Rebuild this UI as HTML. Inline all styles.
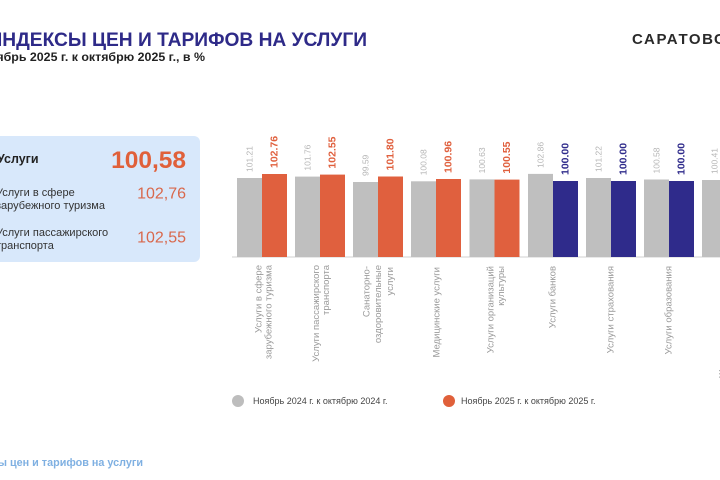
<!DOCTYPE html>
<html><head><meta charset="utf-8"><style>
html,body{margin:0;padding:0;}
body{width:720px;height:480px;position:relative;overflow:hidden;background:#fff;font-family:"Liberation Sans",Arial,sans-serif;}
.abs{position:absolute;white-space:nowrap;}
</style></head><body>
<div class="abs" style="right:353px;top:28.5px;font-size:19.2px;font-weight:bold;color:#2e2a88;line-height:24px;">ИНДЕКСЫ ЦЕН И ТАРИФОВ НА УСЛУГИ</div>
<div class="abs" style="right:515px;top:49.5px;font-size:12.4px;font-weight:bold;color:#222;line-height:14px;">Ноябрь 2025 г. к октябрю 2025 г., в %</div>
<div class="abs" style="left:632px;top:31px;font-size:15px;font-weight:bold;color:#2a2a2a;letter-spacing:1.6px;line-height:18px;">САРАТОВСТАТ</div>
<div class="abs" style="right:577px;top:455.5px;font-size:10.8px;font-weight:bold;color:#7fb0e2;line-height:14px;">Индексы цен и тарифов на услуги</div>

<div class="abs" style="left:-10px;top:136px;width:210px;height:126px;background:#d8e8fb;border-radius:6px;"></div>

<svg class="abs" style="left:0;top:0" width="720" height="480" viewBox="0 0 720 480" font-family="Liberation Sans, Arial, sans-serif">
  <text x="-3" y="163" font-size="12.5" font-weight="bold" fill="#222">Услуги</text>
  <text x="186" y="168" font-size="24.5" font-weight="bold" fill="#e0603a" text-anchor="end">100,58</text>
  <text x="-4" y="196" font-size="11" fill="#333">Услуги в сфере</text>
  <text x="-4" y="209" font-size="11" fill="#333">зарубежного туризма</text>
  <text x="186" y="198.5" font-size="16" fill="#d9684c" text-anchor="end">102,76</text>
  <text x="-4" y="236" font-size="11" fill="#333">Услуги пассажирского</text>
  <text x="-4" y="249" font-size="11" fill="#333">транспорта</text>
  <text x="186" y="242.5" font-size="16" fill="#d9684c" text-anchor="end">102,55</text>

  <line x1="232" y1="257" x2="720" y2="257" stroke="#d0d0d0" stroke-width="1"/>

  <circle cx="238" cy="401" r="6" fill="#bdbdbd"/>
  <text x="253" y="404" font-size="9" fill="#444">Ноябрь 2024 г. к октябрю 2024 г.</text>
  <circle cx="449" cy="401" r="6" fill="#e0603a"/>
  <text x="461" y="404" font-size="9" fill="#444">Ноябрь 2025 г. к октябрю 2025 г.</text>
</svg>

<svg class="abs" style="left:0;top:0" width="720" height="480" viewBox="0 0 720 480" font-family="Liberation Sans, Arial, sans-serif">
<rect x="237" y="178" width="25" height="79" fill="#bfbfbf"/>
<rect x="262" y="174" width="25" height="83" fill="#e0603e"/>
<text transform="translate(249.5,172) rotate(-90)" font-size="8.5" fill="#b5b5b5" dominant-baseline="central">101.21</text>
<text transform="translate(274.5,168) rotate(-90)" font-size="10.5" font-weight="bold" fill="#e0603e" dominant-baseline="central">102.76</text>
<text transform="translate(259,265) rotate(-90)" font-size="9.5" fill="#9a9a9a" text-anchor="end" dominant-baseline="central">Услуги в сфере</text>
<text transform="translate(269,265) rotate(-90)" font-size="9.5" fill="#9a9a9a" text-anchor="end" dominant-baseline="central">зарубежного туризма</text>

<rect x="295" y="176.6" width="25" height="80.4" fill="#bfbfbf"/>
<rect x="320" y="174.6" width="25" height="82.4" fill="#e0603e"/>
<text transform="translate(307.5,170.6) rotate(-90)" font-size="8.5" fill="#b5b5b5" dominant-baseline="central">101.76</text>
<text transform="translate(332.5,168.6) rotate(-90)" font-size="10.5" font-weight="bold" fill="#e0603e" dominant-baseline="central">102.55</text>
<text transform="translate(316.7,265) rotate(-90)" font-size="9.5" fill="#9a9a9a" text-anchor="end" dominant-baseline="central">Услуги пассажирского</text>
<text transform="translate(326.7,265) rotate(-90)" font-size="9.5" fill="#9a9a9a" text-anchor="end" dominant-baseline="central">транспорта</text>

<rect x="353" y="182" width="25" height="75" fill="#bfbfbf"/>
<rect x="378" y="176.5" width="25" height="80.5" fill="#e0603e"/>
<text transform="translate(365.5,176) rotate(-90)" font-size="8.5" fill="#b5b5b5" dominant-baseline="central">99.59</text>
<text transform="translate(390.5,170.5) rotate(-90)" font-size="10.5" font-weight="bold" fill="#e0603e" dominant-baseline="central">101.80</text>
<text transform="translate(367,266) rotate(-90)" font-size="9.5" fill="#9a9a9a" text-anchor="end" dominant-baseline="central">Санаторно-</text>
<text transform="translate(378.5,265) rotate(-90)" font-size="9.5" fill="#9a9a9a" text-anchor="end" dominant-baseline="central">оздоровительные</text>
<text transform="translate(390.5,267) rotate(-90)" font-size="9.5" fill="#9a9a9a" text-anchor="end" dominant-baseline="central">услуги</text>

<rect x="411" y="181.3" width="25" height="75.7" fill="#bfbfbf"/>
<rect x="436" y="179" width="25" height="78" fill="#e0603e"/>
<text transform="translate(423.5,175.3) rotate(-90)" font-size="8.5" fill="#b5b5b5" dominant-baseline="central">100.08</text>
<text transform="translate(448.5,173) rotate(-90)" font-size="10.5" font-weight="bold" fill="#e0603e" dominant-baseline="central">100.96</text>
<text transform="translate(437,267) rotate(-90)" font-size="9.5" fill="#9a9a9a" text-anchor="end" dominant-baseline="central">Медицинские услуги</text>

<rect x="469.5" y="179.4" width="25" height="77.6" fill="#bfbfbf"/>
<rect x="494.5" y="179.6" width="25" height="77.4" fill="#e0603e"/>
<text transform="translate(482,173.4) rotate(-90)" font-size="8.5" fill="#b5b5b5" dominant-baseline="central">100.63</text>
<text transform="translate(507,173.6) rotate(-90)" font-size="10.5" font-weight="bold" fill="#e0603e" dominant-baseline="central">100.55</text>
<text transform="translate(491,266) rotate(-90)" font-size="9.5" fill="#9a9a9a" text-anchor="end" dominant-baseline="central">Услуги организаций</text>
<text transform="translate(501.5,266) rotate(-90)" font-size="9.5" fill="#9a9a9a" text-anchor="end" dominant-baseline="central">культуры</text>

<rect x="528" y="173.9" width="25" height="83.1" fill="#bfbfbf"/>
<rect x="553" y="181" width="25" height="76" fill="#2f2b8b"/>
<text transform="translate(540.5,167.9) rotate(-90)" font-size="8.5" fill="#b5b5b5" dominant-baseline="central">102.86</text>
<text transform="translate(565.5,175) rotate(-90)" font-size="10.5" font-weight="bold" fill="#2f2b8b" dominant-baseline="central">100.00</text>
<text transform="translate(553,266) rotate(-90)" font-size="9.5" fill="#9a9a9a" text-anchor="end" dominant-baseline="central">Услуги банков</text>

<rect x="586" y="178" width="25" height="79" fill="#bfbfbf"/>
<rect x="611" y="181" width="25" height="76" fill="#2f2b8b"/>
<text transform="translate(598.5,172) rotate(-90)" font-size="8.5" fill="#b5b5b5" dominant-baseline="central">101.22</text>
<text transform="translate(623.5,175) rotate(-90)" font-size="10.5" font-weight="bold" fill="#2f2b8b" dominant-baseline="central">100.00</text>
<text transform="translate(611,266) rotate(-90)" font-size="9.5" fill="#9a9a9a" text-anchor="end" dominant-baseline="central">Услуги страхования</text>

<rect x="644" y="179.5" width="25" height="77.5" fill="#bfbfbf"/>
<rect x="669" y="181" width="25" height="76" fill="#2f2b8b"/>
<text transform="translate(656.5,173.5) rotate(-90)" font-size="8.5" fill="#b5b5b5" dominant-baseline="central">100.58</text>
<text transform="translate(681.5,175) rotate(-90)" font-size="10.5" font-weight="bold" fill="#2f2b8b" dominant-baseline="central">100.00</text>
<text transform="translate(669,266) rotate(-90)" font-size="9.5" fill="#9a9a9a" text-anchor="end" dominant-baseline="central">Услуги образования</text>

<rect x="702" y="180" width="25" height="77" fill="#bfbfbf"/>
<text transform="translate(714.5,174) rotate(-90)" font-size="8.5" fill="#b5b5b5" dominant-baseline="central">100.41</text>
<text transform="translate(723,266) rotate(-90)" font-size="9.5" fill="#9a9a9a" text-anchor="end" dominant-baseline="central">Жилищно-коммунальные</text>
</svg>
</body></html>
